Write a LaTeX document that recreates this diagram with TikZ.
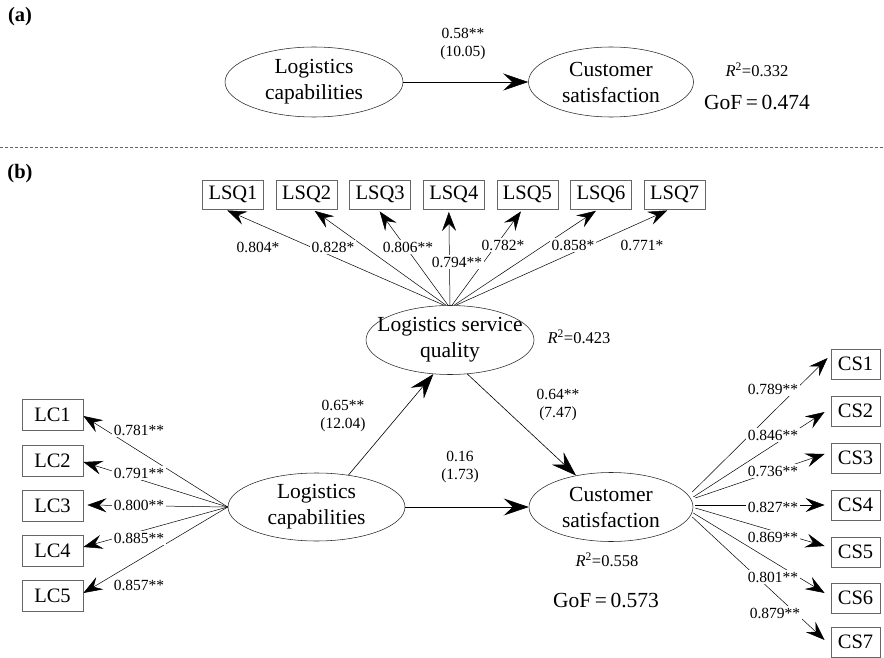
\documentclass[tikz,border=0pt]{standalone}
\usepackage{fontspec}
\setmainfont{Liberation Serif}
\usetikzlibrary{shapes.geometric,arrows.meta,calc}
\newcommand\fsE{\fontsize{21.5}{26}\selectfont}
\newcommand\fsB{\fontsize{20.5}{24}\selectfont}
\newcommand\fsL{\fontsize{15.5}{18}\selectfont}
\newcommand\fsR{\fontsize{16.5}{20}\selectfont}
\begin{document}
\begin{tikzpicture}[x=1pt,y=-1pt,
  lat/.style={ellipse, draw=black!85, line width=0.55pt, inner sep=0pt},
  lattext/.style={align=center, font=\fsE, inner sep=0pt},
  ind/.style={draw=black!60, line width=0.8pt, minimum height=29pt, inner sep=0pt, font=\fsB},
  lab/.style={fill=white, inner sep=1.5pt, font=\fsL},
  twolab/.style={fill=white, inner sep=1.5pt, font=\fsL, align=center},
  structarr/.style={line width=0.6pt, -{Stealth[length=25pt,width=17pt,inset=9pt]}},
  loadarr/.style={line width=0.5pt, -{Stealth[length=19pt,width=14pt,inset=7pt]}},
  rsq/.style={font=\fsR, inner sep=0pt},
  gof/.style={font=\fsE, inner sep=0pt},
  panel/.style={font=\bfseries\fsB, inner sep=0pt}]
\useasboundingbox (0,0) rectangle (884,658);

% ---------- (a) ----------
\node[panel] (la) at (20,17) {(a)};
\node[lat, minimum width=178pt, minimum height=70pt] (lca) at (314,82) {};
\node[lattext] (lcat) at (lca) {Logistics\\capabilities};
\node[lat, minimum width=165pt, minimum height=70pt] (csa) at (611,82) {};
\node[lattext] (csat) at (csa) {Customer\\satisfaction};
\draw[structarr] (lca) -- (csa);
\node[twolab] (pa) at (463,44) {0.58**\\(10.05)};
\node[rsq] (r2a) at (757,70) {\textit{R}\textsuperscript{2}=0.332};
\node[gof] (gofa) at (757,103) {GoF\,=\,0.474};

% separator
\coordinate (dl) at (0,147);
\coordinate (dr) at (884,147);
\draw[black!60, dash pattern=on 3pt off 2pt, line width=0.6pt] (dl) -- (dr);

% ---------- (b) ----------
\node[panel] (lb) at (20,174) {(b)};

% latent variables
\node[lat, minimum width=168pt, minimum height=69pt] (lsq) at (450,340) {};
\node[lattext] (lsqt) at (lsq) {Logistics service\\quality};
\node[lat, minimum width=177pt, minimum height=68pt] (lc) at (316.5,507) {};
\node[lattext] (lct) at (lc) {Logistics\\capabilities};
\node[lat, minimum width=164pt, minimum height=69pt] (cs) at (611,507) {};
\node[lattext] (cst) at (cs) {Customer\\satisfaction};

\node[rsq] (r2lsq) at (579,337) {\textit{R}\textsuperscript{2}=0.423};
\node[rsq] (r2cs) at (607,560) {\textit{R}\textsuperscript{2}=0.558};
\node[gof] (gofb) at (606,600) {GoF\,=\,0.573};

% indicators
\foreach \i/\x in {1/233,2/306.6,3/380.2,4/453.8,5/527.4,6/601,7/674.6}
  \node[ind, minimum width=61pt] (lsq\i) at (\x,194.5) {LSQ\i};
\foreach \i/\y in {1/415,2/460.5,3/505.5,4/550.5,5/595.5}
  \node[ind, minimum width=61pt, minimum height=31pt] (lc\i) at (52.5,\y) {LC\i};
\foreach \i/\y in {1/364,2/411,3/458,4/505,5/552,6/598,7/642}
  \node[ind, minimum width=49pt, minimum height=30pt] (cs\i) at (855.5,\y) {CS\i};

% loadings LSQ
\foreach \i/\s/\t in {1/-6/-8,2/-4/6,3/-2/-2,4/0/-5,5/2/-5,6/4/-3,7/6/-5}
  \draw[loadarr, shorten >=2.5pt] ($(lsq.north)+(\s,0)$) -- ($(lsq\i.south)+(\t,0)$);
% loadings LC
\foreach \i/\dx/\dy in {1/0/1,2/0/1.5,3/4/-0.5,4/0/-3.5,5/0/-2.5}
  \draw[loadarr] (lc.west) -- ($(lc\i.east)+(\dx,\dy)$);
% loadings CS
\foreach \i/\sx/\sy/\tx/\ty in {1/-1/-15/-3/-6,2/0/-10/-6/1,3/2/-9/-6/-4,4/2/-2/-6/0,5/2/1/-6/-6,6/0/6/-6/-5,7/-1/10/-6/-2}
  \draw[loadarr] ($(cs.east)+(\sx,\sy)$) -- ($(cs\i.west)+(\tx,\ty)$);

% structural paths
\draw[structarr] (lc.45) -- (lsq.244);
\draw[structarr] (lsq.-63) -- (cs.138);
\draw[structarr] (lc.east) -- (cs.west);

% labels LSQ
\node[lab] (l1) at (258,247) {0.804*};
\node[lab] (l2) at (333,247) {0.828*};
\node[lab] (l3) at (408,247) {0.806**};
\node[lab] (l4) at (457,262) {0.794**};
\node[lab] (l5) at (503,245) {0.782*};
\node[lab] (l6) at (573,245) {0.858*};
\node[lab] (l7) at (642,245) {0.771*};
% labels LC
\node[lab] (m1) at (139,430) {0.781**};
\node[lab] (m2) at (139,473) {0.791**};
\node[lab] (m3) at (139,505) {0.800**};
\node[lab] (m4) at (139,538) {0.885**};
\node[lab] (m5) at (139,585) {0.857**};
% labels CS
\node[lab] (n1) at (773,389) {0.789**};
\node[lab] (n2) at (773,435) {0.846**};
\node[lab] (n3) at (773,471) {0.736**};
\node[lab] (n4) at (773,507) {0.827**};
\node[lab] (n5) at (773,537) {0.869**};
\node[lab] (n6) at (773,577) {0.801**};
\node[lab] (n7) at (775,613) {0.879**};
% structural labels
\node[twolab] (p1) at (343,416) {0.65**\\(12.04)};
\node[twolab] (p2) at (558,405) {0.64**\\(7.47)};
\node[twolab] (p3) at (460,467) {0.16\\(1.73)};
\end{tikzpicture}
\end{document}
